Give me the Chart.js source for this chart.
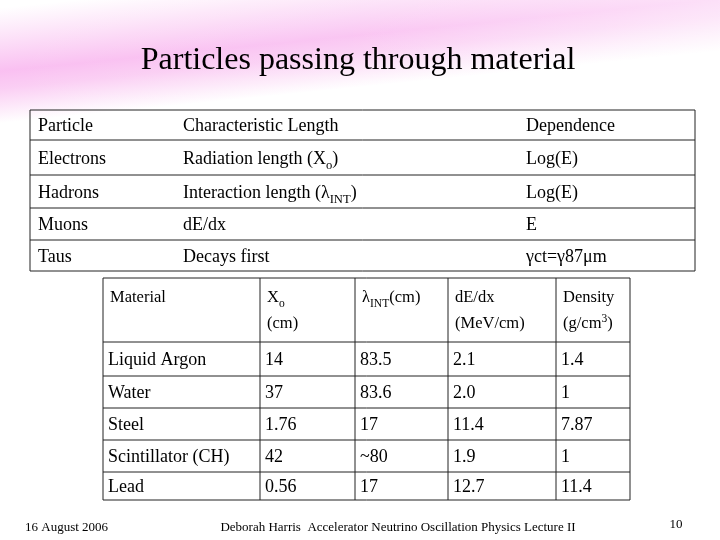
<!DOCTYPE html>
<html lang="en">
<head>
<meta charset="UTF-8">
<title>Particles passing through material</title>
<script src="https://cdn.jsdelivr.net/npm/chart.js"></script>
<style>
  body { margin: 0; background: #fff; }
  canvas { display: block; }
</style>
</head>
<body>
<canvas id="slide" width="720" height="540"></canvas>
<script>
// table 1: particles
const particleHeader = ['Particle', 'Characteristic Length', 'Dependence'];
const particles = ['Electrons', 'Hadrons', 'Muons', 'Taus'];
const charLengths = ['Radiation length (X_{o})', 'Interaction length (λ_{INT})', 'dE/dx', 'Decays first'];
const dependence = ['Log(E)', 'Log(E)', 'E', 'γct=γ87μm'];

// table 2: materials
const materialHeader = [['Material'], ['X_{o}', '(cm)'], ['λ_{INT}(cm)'], ['dE/dx', '(MeV/cm)'], ['Density', '(g/cm^{3})']];
const materials = ['Liquid Argon', 'Water', 'Steel', 'Scintillator (CH)', 'Lead'];
const radLength = ['14', '37', '1.76', '42', '0.56'];
const intLength = ['83.5', '83.6', '17', '~80', '17'];
const dEdx = ['2.1', '2.0', '11.4', '1.9', '12.7'];
const density = ['1.4', '1', '7.87', '1', '11.4'];

// grid lines in slide coordinates
const t1Cols = [30, 175, 518, 695];
const t1Rows = [110, 140, 175, 208, 240, 271];
const t2Cols = [103, 260, 355, 448, 556, 630];
const t2Rows = [278, 342, 376, 408, 440, 472, 500];

function richText(ctx, str, x, y, size) {
  // supports _{sub} and ^{sup}
  const parts = str.split(/([_^]\{[^}]*\})/);
  for (const p of parts) {
    if (!p) continue;
    let s = p, dy = 0, fs = size;
    if (p.startsWith('_{')) { s = p.slice(2, -1); dy = size * 0.3; fs = size * 0.7; }
    else if (p.startsWith('^{')) { s = p.slice(2, -1); dy = -size * 0.35; fs = size * 0.7; }
    ctx.font = fs + 'px "Liberation Serif", "DejaVu Serif", serif';
    ctx.fillText(s, x, y + dy);
    x += ctx.measureText(s).width;
  }
}

const slidePlugin = {
  id: 'slide',
  beforeDraw(chart) {
    const ctx = chart.ctx;
    ctx.save();
    ctx.fillStyle = '#fff';
    ctx.fillRect(0, 0, 720, 540);
    // pink swoosh band rising to the right
    ctx.translate(0, 78);
    ctx.rotate(-0.1);
    const g = ctx.createLinearGradient(0, -70, 0, 45);
    g.addColorStop(0, 'rgba(249,190,240,0)');
    g.addColorStop(0.55, 'rgba(249,185,240,0.9)');
    g.addColorStop(0.7, 'rgba(249,190,240,0.75)');
    g.addColorStop(1, 'rgba(249,190,240,0)');
    ctx.fillStyle = g;
    ctx.fillRect(-50, -70, 900, 115);
    ctx.restore();
    // fade band toward the right
    const h = ctx.createLinearGradient(0, 0, 720, 0);
    h.addColorStop(0, 'rgba(255,255,255,0)');
    h.addColorStop(0.5, 'rgba(255,255,255,0.1)');
    h.addColorStop(1, 'rgba(255,255,255,0.5)');
    ctx.fillStyle = h;
    ctx.fillRect(0, 0, 720, 130);
  },
  afterDraw(chart) {
    const ctx = chart.ctx;
    const sx = chart.scales.x, sy = chart.scales.y;
    const X = v => sx.getPixelForValue(v), Y = v => sy.getPixelForValue(v);
    ctx.save();
    ctx.fillStyle = '#000';
    ctx.textBaseline = 'alphabetic';
    ctx.font = '32px "Liberation Serif", serif';
    ctx.textAlign = 'center';
    ctx.fillText('Particles passing through material', X(358), Y(69));
    ctx.textAlign = 'left';

    // table 1 grid
    ctx.strokeStyle = '#222';
    ctx.lineWidth = 1;
    ctx.beginPath();
    t1Rows.forEach(r => { ctx.moveTo(X(t1Cols[0]), Y(r)); ctx.lineTo(X(t1Cols[3]), Y(r)); });
    [t1Cols[0], t1Cols[3]].forEach(c => { ctx.moveTo(X(c), Y(t1Rows[0])); ctx.lineTo(X(c), Y(t1Rows[5])); });
    ctx.stroke();
    const rows1 = [particleHeader].concat(particles.map((p, i) => [p, charLengths[i], dependence[i]]));
    rows1.forEach((row, i) => {
      const base = (t1Rows[i] + t1Rows[i + 1]) / 2 + 6;
      row.forEach((txt, j) => richText(ctx, txt, X(t1Cols[j] + 8), Y(base), 18));
    });

    // table 2 grid
    ctx.beginPath();
    t2Rows.forEach(r => { ctx.moveTo(X(t2Cols[0]), Y(r)); ctx.lineTo(X(t2Cols[5]), Y(r)); });
    t2Cols.forEach(c => { ctx.moveTo(X(c), Y(t2Rows[0])); ctx.lineTo(X(c), Y(t2Rows[6])); });
    ctx.stroke();
    materialHeader.forEach((lines, j) => {
      lines.forEach((txt, k) => richText(ctx, txt, X(t2Cols[j] + 7), Y(302 + k * 26), 16.5));
    });
    materials.forEach((m, i) => {
      const base = (t2Rows[i + 1] + t2Rows[i + 2]) / 2 + 6;
      [m, radLength[i], intLength[i], dEdx[i], density[i]].forEach((txt, j) =>
        richText(ctx, txt, X(t2Cols[j] + 5), Y(base), 18));
    });

    // footer
    richText(ctx, '16 August 2006', X(25), Y(531), 13);
    ctx.textAlign = 'center';
    ctx.font = '13px "Liberation Serif", serif';
    ctx.fillText('Deborah Harris  Accelerator Neutrino Oscillation Physics Lecture II', X(398), Y(531));
    ctx.fillText('10', X(676), Y(528));
    ctx.restore();
  }
};

new Chart(document.getElementById('slide'), {
  type: 'scatter',
  data: { datasets: [{ data: [], showLine: false }] },
  options: {
    responsive: false,
    animation: false,
    layout: { padding: 0 },
    plugins: { legend: { display: false }, tooltip: { enabled: false } },
    scales: {
      x: { type: 'linear', min: 0, max: 720, display: false },
      y: { type: 'linear', min: 0, max: 540, reverse: true, display: false }
    }
  },
  plugins: [slidePlugin]
});
</script>
</body>
</html>
